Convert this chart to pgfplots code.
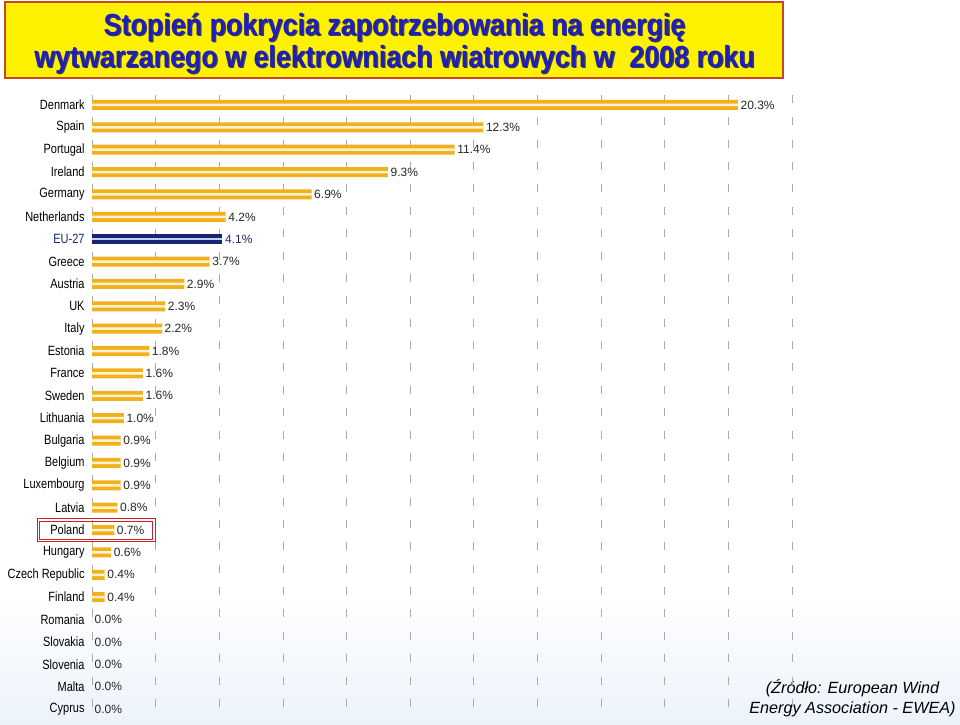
\documentclass[border=0pt]{standalone}
\usepackage{pgfplots}
\pgfplotsset{compat=1.18}
\usepackage{fontspec}
\setmainfont{Liberation Sans}
\newfontfamily\condfont[FakeStretch=0.82]{Liberation Sans}
\newfontfamily\titlefont[FakeStretch=0.88]{Liberation Sans}
\definecolor{barorange}{RGB}{242,176,30}
\definecolor{barstripe}{RGB}{255,243,208}
\definecolor{eunavy}{RGB}{24,38,110}
\definecolor{eustripe}{RGB}{190,210,240}
\definecolor{titleblue}{RGB}{30,30,190}
\definecolor{boxborder}{RGB}{200,70,40}
\definecolor{gridgray}{RGB}{170,170,170}
\definecolor{polred}{RGB}{210,30,40}
\begin{document}
\begin{tikzpicture}[x=1pt,y=1pt]
\useasboundingbox (0,0) rectangle (960,724);
% light background gradient at bottom
\fill[top color=white,bottom color={rgb,255:red,236;green,243;blue,251}] (0,0) rectangle (960,130);
% title box
\fill[yellow] (5,646) rectangle (783,722);
\draw[boxborder,line width=1.2pt] (5,646) rectangle (783,722);
\node[text=black!75,font=\titlefont\bfseries\fontsize{30.5}{32}\selectfont,align=center] at (395.8,679.6) {Stopień pokrycia zapotrzebowania na energię\\wytwarzanego w elektrowniach wiatrowych w\ \ 2008 roku};
\node[text=titleblue,font=\titlefont\bfseries\fontsize{30.5}{32}\selectfont,align=center] at (394.5,680.8) {Stopień pokrycia zapotrzebowania na energię\\wytwarzanego w elektrowniach wiatrowych w\ \ 2008 roku};
% source
\node[font=\itshape\fontsize{16.2}{20}\selectfont,align=center] at (852.5,26) {(Źródło: European Wind\\Energy Association - EWEA)};
\begin{axis}[
  at={(92pt,3.8pt)}, anchor=south west,
  scale only axis, width=700pt, height=626.4pt,
  xmin=0, xmax=22, ymin=-0.5, ymax=27.5, y dir=reverse,
  axis line style={draw=none}, tick style={draw=none},
  xtick={0,2,...,22}, xticklabels={},
  xmajorgrids, grid style={gridgray, line width=0.8pt, dash pattern=on 8pt off 14.37pt, dash phase=21.2pt},
  ytick={0,...,27},
  yticklabels={Denmark,Spain,Portugal,Ireland,Germany,Netherlands,{\color{eunavy}EU-27},Greece,Austria,UK,Italy,Estonia,France,Sweden,Lithuania,Bulgaria,Belgium,Luxembourg,Latvia,Poland,Hungary,Czech Republic,Finland,Romania,Slovakia,Slovenia,Malta,Cyprus},
  yticklabel style={font=\condfont\fontsize{13.4}{15}\selectfont, inner sep=0pt, xshift=-3pt},
  xbar, bar shift=0pt,
  clip=false,
  /pgf/number format/assume math mode=true,
  nodes near coords={\pgfmathprintnumber[fixed,fixed zerofill,precision=1]{\pgfplotspointmeta}\%},
  nodes near coords style={font=\fontsize{12}{14}\selectfont, anchor=west, inner sep=0pt, xshift=2.5pt, text=black!85},
]
\addplot[fill=barorange, draw=none, bar width=10pt] coordinates {
(20.3,0) (12.3,1) (11.4,2) (9.3,3) (6.9,4) (4.2,5) (3.7,7) (2.9,8) (2.3,9) (2.2,10)
(1.8,11) (1.6,12) (1.6,13) (1.0,14) (0.9,15) (0.9,16) (0.9,17) (0.8,18) (0.7,19)
(0.6,20) (0.4,21) (0.4,22) (0.0,23) (0.0,24) (0.0,25) (0.0,26) (0.0,27)};
\addplot[fill=eunavy, draw=none, bar width=10pt, nodes near coords style={text=eunavy}] coordinates {(4.1,6)};
\addplot[fill=barstripe, draw=none, bar width=2.5pt, nodes near coords={}] coordinates {
(20.3,0) (12.3,1) (11.4,2) (9.3,3) (6.9,4) (4.2,5) (3.7,7) (2.9,8) (2.3,9) (2.2,10)
(1.8,11) (1.6,12) (1.6,13) (1.0,14) (0.9,15) (0.9,16) (0.9,17) (0.8,18) (0.7,19)
(0.6,20) (0.4,21) (0.4,22)};
\addplot[fill=eustripe, draw=none, bar width=2.5pt, nodes near coords={}] coordinates {(4.1,6)};
% Poland highlight box
\draw[polred, line width=0.8pt] (axis cs:-1.73,18.5) rectangle (axis cs:1.98,19.5);
\draw[polred, line width=0.6pt] (axis cs:-1.65,18.6) rectangle (axis cs:1.90,19.4);
\end{axis}
\end{tikzpicture}
\end{document}
